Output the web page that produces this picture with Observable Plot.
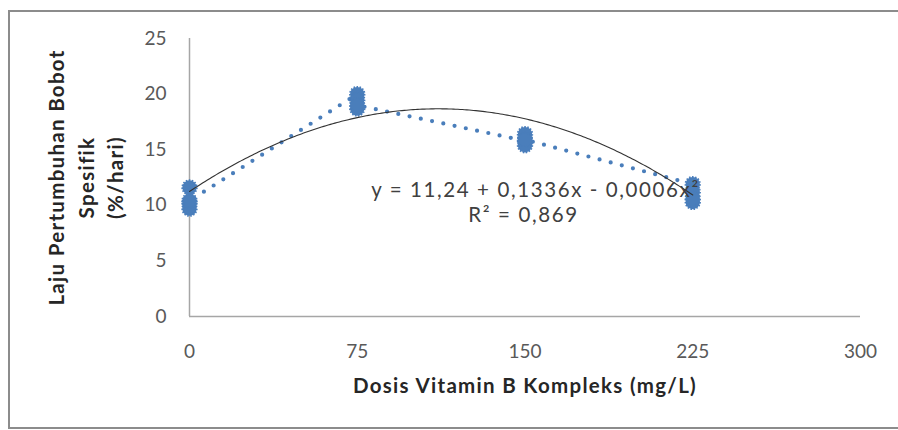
<!DOCTYPE html>
<html>
<head>
<meta charset="utf-8">
<script src="https://cdn.jsdelivr.net/npm/d3@7"></script>
<script src="https://cdn.jsdelivr.net/npm/@observablehq/plot@0.6"></script>
<style>
  html, body { margin: 0; padding: 0; background: #fff; }
  #chart { width: 898px; height: 430px; }
</style>
</head>
<body>
<div id="chart"></div>
<script>
// ---- data ----
const doses = [0, 75, 150, 225];
const rateAt0   = [11.6, 10.2, 9.7, 10.4];
const rateAt75  = [20.0, 19.5, 18.7, 19.0];
const rateAt150 = [15.8, 16.4, 15.4, 15.9];
const rateAt225 = [11.9, 11.2, 10.3, 10.6];
const xTicks = [0, 75, 150, 225, 300];
const yTicks = [0, 5, 10, 15, 20, 25];
const trendCoef = [11.24, 0.1336, -0.0006]; // y = a + b x + c x^2
const eqLine1 = "y = 11,24 + 0,1336x - 0,0006x\u00B2";
const eqLine2 = "R\u00B2 = 0,869";
const xTitle = "Dosis Vitamin B Kompleks (mg/L)";
const yTitleLines = ["Laju Pertumbuhan Bobot", "Spesifik", "(%/hari)"];

// ---- build table ----
const groups = [rateAt0, rateAt75, rateAt150, rateAt225];
const points = [];
groups.forEach((vals, i) => vals.forEach(v => points.push({x: doses[i], y: v})));

const trend = d3.range(0, 225.5, 1).map(x => ({x, y: trendCoef[0] + trendCoef[1]*x + trendCoef[2]*x*x}));

const blue = "#4a7ebb";
const font = "Lato, 'Open Sans', sans-serif";
const yTitleDx = [-132, -102, -73];

const chart = Plot.plot({
  width: 898,
  height: 430,
  marginLeft: 189,
  marginRight: 38,
  marginTop: 38,
  marginBottom: 114,
  style: {fontFamily: font, background: "white"},
  x: {domain: [0, 300]},
  y: {domain: [0, 25]},
  marks: [
    Plot.ruleX([0], {y1: 0, y2: 25, stroke: "#a6a6a6", strokeWidth: 1.5}),
    Plot.ruleY([0], {x1: 0, x2: 300, stroke: "#a6a6a6", strokeWidth: 1.5}),
    Plot.axisX({ticks: xTicks, tickSize: 0, tickPadding: 28, fontSize: 19, fill: "#595959", label: null, tickFormat: d => String(d)}),
    Plot.axisY({ticks: yTicks, tickSize: 0, tickPadding: 23, fontSize: 19, fill: "#595959", label: null, tickFormat: d => String(d)}),
    Plot.line(points, {x: "x", y: "y", stroke: blue, strokeWidth: 4.2, strokeDasharray: "0,11.5", strokeLinecap: "round"}),
    Plot.dot(points, {x: "x", y: "y", r: 7.2, fill: blue, stroke: blue, strokeWidth: 2, strokeDasharray: "1.5,1.5"}),
    Plot.line(trend, {x: "x", y: "y", stroke: "#333", strokeWidth: 1.1}),
    Plot.text([eqLine1], {frameAnchor: "top-left", dx: 346, dy: 152, text: d => d, fontSize: 20.5, fill: "#404040", textAnchor: "middle", lineAnchor: "middle"}),
    Plot.text([eqLine2], {frameAnchor: "top-left", dx: 334, dy: 177, text: d => d, fontSize: 20.5, fill: "#404040", textAnchor: "middle", lineAnchor: "middle"}),
    Plot.text([xTitle], {frameAnchor: "bottom", dy: 70, text: d => d, fontSize: 20.5, fontWeight: "bold", fill: "#262626", lineAnchor: "middle"}),
    ...yTitleLines.map((t, i) => Plot.text([t], {frameAnchor: "left", dx: yTitleDx[i], text: d => d, rotate: -90, fontSize: 20.5, fontWeight: "bold", fill: "#262626", textAnchor: "middle", lineAnchor: "middle"}))
  ]
});

const svg = d3.select(chart);
svg.selectAll("text").filter(function() { return this.textContent === xTitle || yTitleLines.includes(this.textContent); })
  .attr("letter-spacing", "1.3px");
svg.selectAll("text").filter(function() { return this.textContent === eqLine1 || this.textContent === eqLine2; })
  .attr("letter-spacing", "1.6px");

svg.append("rect")
  .attr("x", 9).attr("y", 11).attr("width", 900).attr("height", 417)
  .attr("fill", "none").attr("stroke", "#8c8c8c").attr("stroke-width", 2);

document.getElementById("chart").appendChild(chart);
</script>
</body>
</html>
